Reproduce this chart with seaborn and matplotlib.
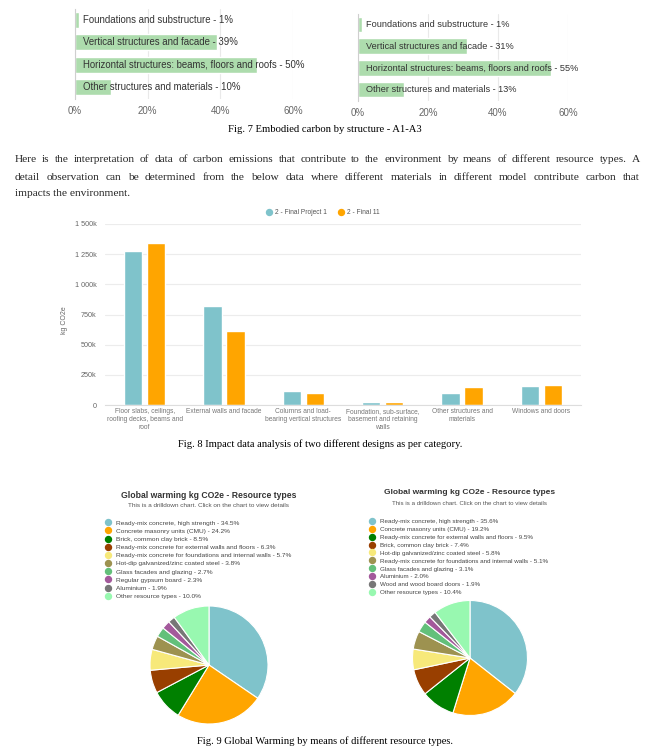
import numpy as np
import pandas as pd
import matplotlib
matplotlib.use('Agg')
import matplotlib.pyplot as plt
from matplotlib.lines import Line2D
import seaborn as sns

sns.set_theme(style='white')
plt.rcParams['font.family'] = ['Liberation Sans', 'DejaVu Sans']

#data - Fig. 7 (A1-A3 by structure, two designs)
struct_labels = ['Foundations and substructure', 'Vertical structures and facade',
                 'Horizontal structures: beams, floors and roofs', 'Other structures and materials']
struct_left = [1, 39, 50, 10]
struct_right = [1, 31, 55, 13]
pct_ticks = [0, 20, 40, 60]

#data - Fig. 8 (kg CO2e per category)
cat_labels = ['Floor slabs, ceilings,\nroofing decks, beams and\nroof',
              'External walls and facade',
              'Columns and load-\nbearing vertical structures',
              'Foundation, sub-surface,\nbasement and retaining\nwalls',
              'Other structures and\nmaterials',
              'Windows and doors']
series_names = ['2 - Final Project 1', '2 - Final 11']
proj_1 = [1275000, 822000, 113000, 25000, 99000, 157000]
proj_11 = [1340000, 612000, 99000, 22000, 146000, 165000]
kg_ticks = [0, 250000, 500000, 750000, 1000000, 1250000, 1500000]

#data - Fig. 9 (resource types)
res_left = ['Ready-mix concrete, high strength', 'Concrete masonry units (CMU)',
            'Brick, common clay brick', 'Ready-mix concrete for external walls and floors',
            'Ready-mix concrete for foundations and internal walls',
            'Hot-dip galvanized/zinc coated steel', 'Glass facades and glazing',
            'Regular gypsum board', 'Aluminium', 'Other resource types']
pct_left = [34.5, 24.2, 8.5, 6.3, 5.7, 3.8, 2.7, 2.3, 1.9, 10.0]
res_right = ['Ready-mix concrete, high strength', 'Concrete masonry units (CMU)',
             'Ready-mix concrete for external walls and floors', 'Brick, common clay brick',
             'Hot-dip galvanized/zinc coated steel',
             'Ready-mix concrete for foundations and internal walls',
             'Glass facades and glazing', 'Aluminium', 'Wood and wood board doors',
             'Other resource types']
pct_right = [35.6, 19.2, 9.5, 7.4, 5.8, 5.1, 3.1, 2.0, 1.9, 10.4]
pie_colors = ['#7fc3cb', '#ffa500', '#008000', '#993f00', '#f7e97a', '#9d9250',
              '#63c07a', '#a3599b', '#777777', '#98f8b0']

para_lines = ['Here is the interpretation of data of carbon emissions that contribute to the environment by means of different resource types. A',
              'detail observation can be determined from the below data where different materials in different model contribute carbon that',
              'impacts the environment.']

W, H = 651, 756
fig = plt.figure(figsize=(W / 100, H / 100), dpi=100)
fig.patch.set_facecolor('white')

def box(x0, y0, x1, y1):
    return [x0 / W, 1 - y1 / H, (x1 - x0) / W, (y1 - y0) / H]

serif = ['Liberation Serif', 'DejaVu Serif']

#Fig. 7 bar charts
for vals, pos, fs in [(struct_left, (75, 8.5, 293, 98.5), 6.9), (struct_right, (358, 13.5, 568, 100.5), 6.55)]:
    ax = fig.add_axes(box(*pos))
    df = pd.DataFrame({'label': struct_labels, 'value': vals})
    sns.barplot(data=df, x='value', y='label', orient='h', color='#addcad',
                saturation=1, width=0.72, ax=ax)
    ax.set_xlim(0, 60)
    ax.set_xticks(pct_ticks)
    ax.set_xticklabels([f'{t}%' for t in pct_ticks])
    ax.set_yticks([])
    ax.set_xlabel('')
    ax.set_ylabel('')
    ax.grid(axis='x', color='#e9e9e9', lw=0.8)
    ax.set_axisbelow(True)
    for s in ['top', 'right', 'bottom']:
        ax.spines[s].set_visible(False)
    ax.spines['left'].set_color('#cfcfcf')
    ax.spines['left'].set_linewidth(0.8)
    ax.tick_params(axis='x', length=0, pad=5.5, labelsize=7, labelcolor='#666666')
    for i, (lab, v) in enumerate(zip(struct_labels, vals)):
        ax.annotate(f'{lab} - {v}%', (0, i), xytext=(8, 0), textcoords='offset pixels',
                    va='center', ha='left', fontsize=fs, color='#333333')

fig.text(325 / W, 1 - 130 / H, 'Fig. 7 Embodied carbon by structure - A1-A3',
         ha='center', va='center', fontsize=7.7, family=serif, color='black')

#justified paragraph
renderer = fig.canvas.get_renderer()
para_y = [160, 177, 193]
for k, line in enumerate(para_lines):
    y = 1 - para_y[k] / H
    if k == len(para_lines) - 1:
        fig.text(15 / W, y, line, ha='left', va='center', fontsize=8.2, family=serif)
        continue
    words = line.split()
    txts = [fig.text(0, y, w, ha='left', va='center', fontsize=8.2, family=serif) for w in words]
    widths = [t.get_window_extent(renderer).width for t in txts]
    gap = (625 - sum(widths)) / (len(words) - 1)
    x = 15
    for t, w in zip(txts, widths):
        t.set_x(x / W)
        x += w + gap

#Fig. 8 grouped bars
ax = fig.add_axes(box(105, 224, 581, 405))
df = pd.DataFrame({'category': cat_labels * 2,
                   'series': [series_names[0]] * 6 + [series_names[1]] * 6,
                   'value': proj_1 + proj_11})
sns.barplot(data=df, x='category', y='value', hue='series', order=cat_labels,
            palette=['#7fc3cb', '#ffa500'], saturation=1, width=0.58, gap=0.2,
            legend=False, ax=ax)
ax.set_ylim(0, 1500000)
ax.set_xlim(-0.5, 5.5)
ax.set_yticks(kg_ticks)
ax.set_yticklabels([f'{t // 1000:,}k'.replace(',', ' ') if t else '0' for t in kg_ticks])
ax.grid(axis='y', color='#ececec', lw=0.8)
ax.set_axisbelow(True)
for s in ['top', 'right', 'left']:
    ax.spines[s].set_visible(False)
ax.spines['bottom'].set_color('#dddddd')
ax.spines['bottom'].set_linewidth(0.8)
ax.tick_params(axis='y', length=0, pad=6, labelsize=5.2, labelcolor='#666666')
ax.tick_params(axis='x', length=0, pad=2, labelsize=4.8, labelcolor='#777777')
for t in ax.get_xticklabels():
    t.set_linespacing(1.25)
ax.set_xlabel('')
ax.set_ylabel('kg CO2e', fontsize=5, color='#666666')
ax.yaxis.set_label_coords(-0.078, 0.47)
handles = [Line2D([], [], marker='o', ls='', markersize=4.3, color=c) for c in ['#7fc3cb', '#ffa500']]
ax.legend(handles, series_names, ncol=2, loc='center', bbox_to_anchor=(323 / W, 1 - 213 / H),
          bbox_transform=fig.transFigure, frameon=False, fontsize=4.8, handlelength=1,
          handletextpad=0.4, columnspacing=1.6, labelcolor='#555555', borderpad=0)

fig.text(320 / W, 1 - 444 / H, 'Fig. 8 Impact data analysis of two different designs as per category.',
         ha='center', va='center', fontsize=7.6, family=serif, color='black')

#Fig. 9 pies
pie_sets = [(res_left, pct_left, 209, 665, 59, 495, 104.7, 520, 6.2, 4.6, 4.65, 0.41),
            (res_right, pct_right, 470, 658, 57.5, 493, 369, 518.5, 6.0, 4.45, 4.5, 0.41)]
for names, vals, cx, cy, r, ty, lx, ly, tfs, sfs, lfs, lsp in pie_sets:
    ax = fig.add_axes(box(cx - r, cy - r, cx + r, cy + r))
    ax.pie(vals, colors=pie_colors, startangle=90, counterclock=False,
           wedgeprops=dict(edgecolor='white', linewidth=0.8))
    ax.set_xlim(-1, 1)
    ax.set_ylim(-1, 1)
    fig.text(cx / W, 1 - ty / H, 'Global warming kg CO2e - Resource types', ha='center',
             va='center', fontsize=tfs, fontweight='bold', color='#333333')
    fig.text(cx / W, 1 - (ty + 10.5) / H, 'This is a drilldown chart. Click on the chart to view details',
             ha='center', va='center', fontsize=sfs, color='#555555')
    handles = [Line2D([], [], marker='o', ls='', markersize=4.3, color=c) for c in pie_colors]
    labels = [f'{n} - {v:.1f}%' for n, v in zip(names, vals)]
    ax.legend(handles, labels, loc='upper left', bbox_to_anchor=(lx / W, 1 - ly / H),
              bbox_transform=fig.transFigure, frameon=False, fontsize=lfs, labelspacing=lsp,
              handlelength=1, handletextpad=0.7, borderpad=0, borderaxespad=0,
              labelcolor='#444444')

fig.text(325 / W, 1 - 741 / H, 'Fig. 9 Global Warming by means of different resource types.',
         ha='center', va='center', fontsize=7.6, family=serif, color='black')

plt.savefig('out.png', dpi=100, facecolor='white')
plt.close()
